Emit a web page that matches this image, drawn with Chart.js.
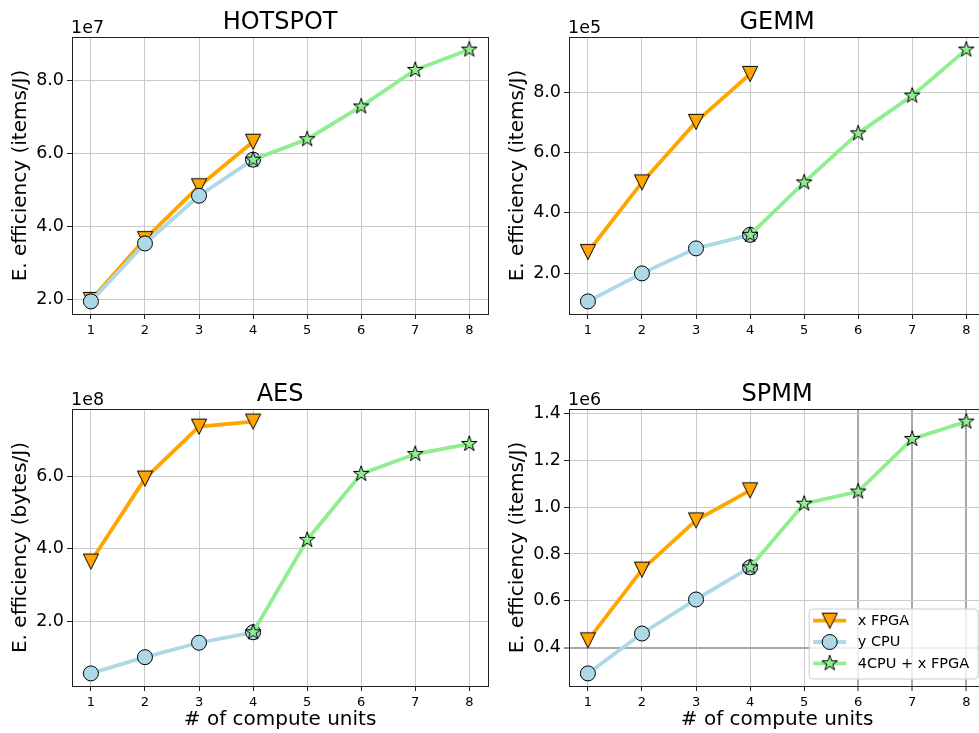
<!DOCTYPE html>
<html><head><meta charset="utf-8">
<script src="https://cdn.jsdelivr.net/npm/chart.js@4"></script>
<style>
html,body{margin:0;padding:0;background:#fff;overflow:hidden;width:979px;height:733px;position:relative;}
.box{position:absolute;width:500px;height:361px;}
canvas{display:block;}
</style></head><body>
<div class="box" style="left:0;top:0"><canvas id="c0" width="500" height="361"></canvas></div>
<div class="box" style="left:497px;top:0"><canvas id="c1" width="500" height="361"></canvas></div>
<div class="box" style="left:0;top:372px"><canvas id="c2" width="500" height="361"></canvas></div>
<div class="box" style="left:497px;top:372px"><canvas id="c3" width="500" height="361"></canvas></div>
<script>
// ---- data ----
const units = [1, 2, 3, 4, 5, 6, 7, 8];
const fpgaUnits = [1, 2, 3, 4];
const cpuUnits = [1, 2, 3, 4];
const hybridUnits = [4, 5, 6, 7, 8];
const seriesNames = ['x FPGA', 'y CPU', '4CPU + x FPGA'];

const titles = ['HOTSPOT', 'GEMM', 'AES', 'SPMM'];
const yLabels = ['E. efficiency (items/J)', 'E. efficiency (items/J)', 'E. efficiency (bytes/J)', 'E. efficiency (items/J)'];
const exponents = [1e7, 1e5, 1e8, 1e6];
const exponentLabels = ['1e7', '1e5', '1e8', '1e6'];
const xLabel = '# of compute units';

const hotspotFpga = [1.98e7, 3.65e7, 5.10e7, 6.32e7];
const hotspotCpu = [1.94e7, 3.53e7, 4.84e7, 5.83e7];
const hotspotHybrid = [5.83e7, 6.39e7, 7.29e7, 8.29e7, 8.85e7];

const gemmFpga = [2.70e5, 5.01e5, 7.02e5, 8.61e5];
const gemmCpu = [1.06e5, 1.99e5, 2.82e5, 3.27e5];
const gemmHybrid = [3.27e5, 5.01e5, 6.64e5, 7.89e5, 9.42e5];

const aesFpga = [3.65e8, 5.95e8, 7.39e8, 7.53e8];
const aesCpu = [0.55e8, 1.00e8, 1.40e8, 1.69e8];
const aesHybrid = [1.69e8, 4.25e8, 6.08e8, 6.63e8, 6.91e8];

const spmmFpga = [0.432e6, 0.733e6, 0.943e6, 1.071e6];
const spmmCpu = [0.291e6, 0.461e6, 0.606e6, 0.743e6];
const spmmHybrid = [0.743e6, 1.014e6, 1.066e6, 1.290e6, 1.364e6];

const hotspotYTicks = [2e7, 4e7, 6e7, 8e7];
const gemmYTicks = [2e5, 4e5, 6e5, 8e5];
const aesYTicks = [2e8, 4e8, 6e8];
const spmmYTicks = [0.4e6, 0.6e6, 0.8e6, 1.0e6, 1.2e6, 1.4e6];

// ---- styles ----
const ORANGE = '#ffa500', BLUE = '#add8e6', GREEN = '#90ee90';
const FONT = "'DejaVu Sans', sans-serif";
Chart.defaults.font.family = FONT;
Chart.defaults.color = '#000';

function makeTriangle() {
  const c = document.createElement('canvas'); c.width = 20; c.height = 20;
  const g = c.getContext('2d');
  const s = 7.6;
  g.beginPath(); g.moveTo(10 - s, 10 - s); g.lineTo(10 + s, 10 - s); g.lineTo(10, 10 + s); g.closePath();
  g.fillStyle = ORANGE; g.fill(); g.lineWidth = 1; g.strokeStyle = '#000'; g.stroke();
  return c;
}
function makeStar() {
  const c = document.createElement('canvas'); c.width = 22; c.height = 22;
  const g = c.getContext('2d');
  const R = 8.2, r = R * 0.381966;
  g.beginPath();
  for (let i = 0; i < 10; i++) {
    const a = -Math.PI / 2 + i * Math.PI / 5, rr = i % 2 === 0 ? R : r;
    const px = 11 + rr * Math.cos(a), py = 11 + rr * Math.sin(a);
    if (i === 0) g.moveTo(px, py); else g.lineTo(px, py);
  }
  g.closePath(); g.fillStyle = GREEN; g.fill(); g.lineWidth = 1; g.strokeStyle = '#000'; g.stroke();
  return c;
}
const triImg = makeTriangle();
const starImg = makeStar();

function pts(xs, ys) { return xs.map((x, i) => ({x: x, y: ys[i]})); }

function drawMarker(ctx, ds, x, y) {
  if (ds.pointStyle instanceof HTMLCanvasElement) {
    const im = ds.pointStyle; ctx.drawImage(im, x - im.width / 2, y - im.height / 2);
  } else {
    ctx.beginPath(); ctx.arc(x, y, ds.pointRadius, 0, Math.PI * 2);
    ctx.fillStyle = ds.pointBackgroundColor; ctx.fill();
    ctx.lineWidth = 1; ctx.strokeStyle = '#000'; ctx.stroke();
  }
}

const framePlugin = {
  id: 'frame',
  afterDatasetsDraw(chart, args, opts) {
    const a = chart.chartArea, ctx = chart.ctx;
    ctx.save();
    ctx.strokeStyle = '#222'; ctx.lineWidth = 1;
    ctx.strokeRect(Math.round(a.left) + 0.5, Math.round(a.top) + 0.5, Math.round(a.right - a.left), Math.round(a.bottom - a.top));
    ctx.fillStyle = '#000'; ctx.font = '17.5px ' + FONT; ctx.textAlign = 'left'; ctx.textBaseline = 'alphabetic';
    ctx.fillText(opts.expLabel, a.left - 1, a.top - 4);
    ctx.restore();
  }
};

const legendPlugin = {
  id: 'mplLegend',
  afterDraw(chart) {
    const a = chart.chartArea, ctx = chart.ctx;
    const w = 169, h = 70, right = a.right - 7, bottom = a.bottom - 7, left = right - w, top = bottom - h;
    ctx.save();
    const r = 4;
    ctx.beginPath();
    ctx.moveTo(left + r, top); ctx.lineTo(right - r, top); ctx.arcTo(right, top, right, top + r, r);
    ctx.lineTo(right, bottom - r); ctx.arcTo(right, bottom, right - r, bottom, r);
    ctx.lineTo(left + r, bottom); ctx.arcTo(left, bottom, left, bottom - r, r);
    ctx.lineTo(left, top + r); ctx.arcTo(left, top, left + r, top, r); ctx.closePath();
    ctx.fillStyle = 'rgba(255,255,255,0.8)'; ctx.fill();
    ctx.strokeStyle = '#cccccc'; ctx.lineWidth = 1; ctx.stroke();
    chart.data.datasets.forEach((ds, i) => {
      const y = top + 11.7 + i * 21.3;
      ctx.beginPath(); ctx.moveTo(left + 4, y); ctx.lineTo(left + 37, y);
      ctx.strokeStyle = ds.borderColor; ctx.lineWidth = ds.borderWidth; ctx.stroke();
      drawMarker(ctx, ds, left + 20.5, y);
      ctx.fillStyle = '#000'; ctx.font = '14.5px ' + FONT; ctx.textAlign = 'left'; ctx.textBaseline = 'middle';
      ctx.fillText(ds.label, left + 48.5, y + 0.5);
    });
    ctx.restore();
  }
};

function makeChart(id, idx, fpga, cpu, hybrid, yTicks, showXTitle, special) {
  const all = fpga.concat(cpu, hybrid);
  const ymin = Math.min(...all), ymax = Math.max(...all), yr = ymax - ymin;
  const xmin = Math.min(...units), xmax = Math.max(...units), xr = xmax - xmin;
  const expo = exponents[idx];
  const lw = 3.8;
  const datasets = [
    {label: seriesNames[0], data: pts(fpgaUnits, fpga), borderColor: ORANGE, backgroundColor: ORANGE, borderWidth: lw,
     pointStyle: triImg, pointRadius: 8, order: 3},
    {label: seriesNames[1], data: pts(cpuUnits, cpu), borderColor: BLUE, backgroundColor: BLUE, borderWidth: lw,
     pointStyle: 'circle', pointRadius: 7.5, pointBackgroundColor: BLUE, pointBorderColor: '#000', pointBorderWidth: 1, order: 2},
    {label: seriesNames[2], data: pts(hybridUnits, hybrid), borderColor: GREEN, backgroundColor: GREEN, borderWidth: lw,
     pointStyle: starImg, pointRadius: 8, order: 1}
  ];
  const gridNormal = '#cacaca', gridDark = '#a8a8a8';
  return new Chart(document.getElementById(id), {
    type: 'line',
    data: {datasets},
    options: {
      responsive: false, animation: false, devicePixelRatio: 1,
      layout: {padding: {left: 0, right: 10, top: 0, bottom: 0}},
      elements: {line: {tension: 0}},
      scales: {
        x: {
          type: 'linear', min: xmin - 0.05 * xr, max: xmax + 0.05 * xr,
          afterBuildTicks: s => { s.ticks = units.map(v => ({value: v})); },
          afterFit: s => { s.height = 47; },
          ticks: {font: {size: 13}, padding: 3.5, maxRotation: 0, autoSkip: false, color: '#000', callback: v => String(v)},
          grid: {
            color: c => (special && c.tick && c.tick.value >= 6) ? gridDark : gridNormal,
            lineWidth: c => (special && c.tick && c.tick.value >= 6) ? 2 : 1,
            tickLength: 5, tickColor: '#222', tickWidth: 1
          },
          border: {display: false},
          title: {display: showXTitle, text: xLabel, font: {size: 20}, padding: {top: 0, bottom: 1.2}, color: '#000'}
        },
        y: {
          type: 'linear', min: ymin - 0.05 * yr, max: ymax + 0.05 * yr,
          afterBuildTicks: s => { s.ticks = yTicks.map(v => ({value: v})); },
          afterFit: s => { s.width = 72; },
          ticks: {font: {size: 17.5}, padding: 3, color: '#000', callback: v => (v / expo).toFixed(1)},
          grid: {
            color: c => (special && c.tick && Math.abs(c.tick.value - 0.4e6) < 1) ? gridDark : gridNormal,
            lineWidth: c => (special && c.tick && Math.abs(c.tick.value - 0.4e6) < 1) ? 2 : 1,
            tickLength: 5, tickColor: '#222', tickWidth: 1
          },
          border: {display: false},
          title: {display: true, text: yLabels[idx], font: {size: 20}, padding: {top: 9, bottom: 0}, color: '#000'}
        }
      },
      plugins: {
        legend: {display: false}, tooltip: {enabled: false},
        title: {display: true, text: titles[idx], fullSize: false, font: {size: 24, weight: 'normal', lineHeight: 1},
                padding: {top: 11.2, bottom: 1.8}, color: '#000'},
        frame: {expLabel: exponentLabels[idx]}
      }
    },
    plugins: special ? [framePlugin, legendPlugin] : [framePlugin]
  });
}

makeChart('c0', 0, hotspotFpga, hotspotCpu, hotspotHybrid, hotspotYTicks, false, false);
makeChart('c1', 1, gemmFpga, gemmCpu, gemmHybrid, gemmYTicks, false, false);
makeChart('c2', 2, aesFpga, aesCpu, aesHybrid, aesYTicks, true, false);
makeChart('c3', 3, spmmFpga, spmmCpu, spmmHybrid, spmmYTicks, true, true);
</script>
</body></html>
